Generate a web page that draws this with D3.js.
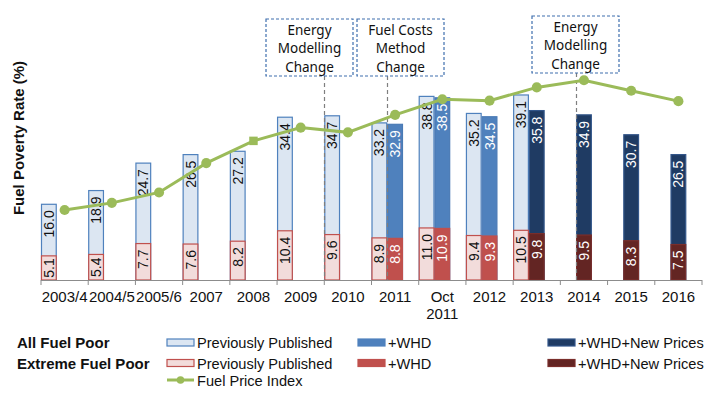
<!DOCTYPE html>
<html>
<head>
<meta charset="utf-8">
<script src="https://cdn.jsdelivr.net/npm/d3@7.9.0/dist/d3.min.js"></script>
<style>
  html, body { margin: 0; padding: 0; background: #fff; }
  svg { display: block; font-family: "Liberation Sans", Arial, sans-serif; }
</style>
</head>
<body>
<svg id="chart" width="722" height="406"></svg>
<script>
// chart values
const categories = ["2003/4", "2004/5", "2005/6", "2007", "2008", "2009", "2010", "2011", "Oct 2011", "2012", "2013", "2014", "2015", "2016"];
const allPrev  = [16.0, 18.9, 24.7, 26.5, 27.2, 34.4, 34.7, 33.2, 38.8, 35.2, 39.1, null, null, null];
const allWHD   = [null, null, null, null, null, null, null, 32.9, 38.5, 34.5, null, null, null, null];
const allNew   = [null, null, null, null, null, null, null, null, null, null, 35.8, 34.9, 30.7, 26.5];
const extPrev  = [5.1, 5.4, 7.7, 7.6, 8.2, 10.4, 9.6, 8.9, 11.0, 9.4, 10.5, null, null, null];
const extWHD   = [null, null, null, null, null, null, null, 8.8, 10.9, 9.3, null, null, null, null];
const extNew   = [null, null, null, null, null, null, null, null, null, null, 9.8, 9.5, 8.3, 7.5];
const fuelPriceIndex = [14.8, 16.3, 18.5, 24.7, 29.4, 32.2, 31.2, 34.9, 38.2, 37.9, 40.7, 42.2, 40.0, 37.8];
const squareMarkerAt = ["2008"];

const annotations = [
  { lines: ["Energy", "Modelling", "Change"], at: "2010", slot: 0, dx: -15, top: 19 },
  { lines: ["Fuel Costs", "Method", "Change"], at: "2011", slot: 1, dx: 13, top: 19 },
  { lines: ["Energy", "Modelling", "Change"], at: "2014", slot: 1, dx: -1, top: 16 }
];

const svg = d3.select("#chart");
const left = 41, right = 702, base = 280;

const x = d3.scaleBand().domain(categories).range([left, right]).padding(0);
const slot = d3.scaleBand().domain([0, 1, 2]).range([0, x.bandwidth()]);
const y = d3.scaleLinear().domain([0, 56]).range([base, 15]);

const col = {
  prevAll: "#dce6f2", prevAllLine: "#4f81bd",
  prevExt: "#f2dcdb", prevExtLine: "#c0504d",
  whdAll: "#4f81bd", whdExt: "#c0504d",
  newAll: "#1f3b63", newExt: "#632523",
  green: "#9bbb59"
};

const series = [
  { vals: allPrev, s: 0, fill: col.prevAll, stroke: col.prevAllLine, text: "#111" },
  { vals: allWHD,  s: 1, fill: col.whdAll,  stroke: "#4a7ab5", text: "#fff" },
  { vals: allNew,  s: 1, fill: col.newAll,  stroke: "#33568a", text: "#fff" },
  { vals: extPrev, s: 0, fill: col.prevExt, stroke: col.prevExtLine, text: "#111" },
  { vals: extWHD,  s: 1, fill: col.whdExt,  stroke: "#c0504d", text: "#fff" },
  { vals: extNew,  s: 1, fill: col.newExt,  stroke: "#7a2e2b", text: "#fff" }
];

const barG = svg.append("g");
const labelG = svg.append("g");

series.forEach(sr => {
  const data = categories.map((c, i) => ({ c, v: sr.vals[i] })).filter(d => d.v != null);
  barG.selectAll(null).data(data).enter().append("rect")
    .attr("x", d => x(d.c) + slot(sr.s) + 0.5)
    .attr("y", d => y(d.v))
    .attr("width", slot.bandwidth() - 1)
    .attr("height", d => y(0) - y(d.v))
    .attr("fill", sr.fill)
    .attr("stroke", sr.stroke)
    .attr("stroke-width", 1.2);

  labelG.selectAll(null).data(data).enter().append("text")
    .attr("font-size", "14px")
    .attr("fill", sr.text)
    .text(d => d.v.toFixed(1))
    .each(function (d) {
      const len = this.getComputedTextLength();
      const cx = x(d.c) + slot(sr.s) + slot.bandwidth() / 2;
      const top = y(d.v), h = y(0) - top;
      let yPos;
      if (h - 9 >= len) yPos = top + 6 + len;           // inside end
      else yPos = top + h / 2 + len / 2;                 // centred in short bars
      d3.select(this)
        .attr("transform", `translate(${cx + 5},${yPos}) rotate(-90)`);
    });
});

// axis
const axisG = svg.append("g");
axisG.append("line")
  .attr("x1", left).attr("x2", right).attr("y1", base + 0.5).attr("y2", base + 0.5)
  .attr("stroke", "#8c8c8c").attr("stroke-width", 1);
const ticks = categories.map(c => x(c)).concat([right]);
axisG.selectAll(null).data(ticks).enter().append("line")
  .attr("x1", d => d).attr("x2", d => d)
  .attr("y1", base).attr("y2", base + 5)
  .attr("stroke", "#8c8c8c");

axisG.selectAll(null).data(categories).enter().append("text")
  .attr("text-anchor", "middle")
  .attr("font-size", "15px")
  .attr("fill", "#111")
  .each(function (c) {
    const parts = c.split(" ");
    d3.select(this).selectAll("tspan").data(parts).enter().append("tspan")
      .attr("x", x(c) + x.bandwidth() / 2)
      .attr("y", (p, i) => base + 22 + i * 16.5)
      .text(p => p);
  });

// y title
svg.append("text")
  .attr("transform", "translate(24,138) rotate(-90)")
  .attr("text-anchor", "middle")
  .attr("font-size", "15px")
  .attr("font-weight", "bold")
  .attr("fill", "#111")
  .text("Fuel Poverty Rate (%)");

// annotation boxes and dashed markers
annotations.forEach(a => {
  const lx = Math.round(x(a.at) + slot(a.slot)) + 0.5;
  const g = svg.append("g");
  const bw = 87, bh = 57;
  const bx = lx + a.dx - bw / 2;
  g.append("line")
    .attr("x1", lx).attr("x2", lx).attr("y1", a.top + bh).attr("y2", base)
    .attr("stroke", "#7f7f7f").attr("stroke-width", 1.2)
    .attr("stroke-dasharray", "4,3");
  g.append("rect")
    .attr("x", bx).attr("y", a.top).attr("width", bw).attr("height", bh)
    .attr("fill", "#fff").attr("stroke", "#3f6fae").attr("stroke-width", 1.2)
    .attr("stroke-dasharray", "3,2");
  g.selectAll(null).data(a.lines).enter().append("text")
    .attr("x", bx + bw / 2)
    .attr("y", (t, i) => a.top + 16 + i * 18.3)
    .attr("text-anchor", "middle")
    .attr("font-family", "'Noto Sans', sans-serif")
    .attr("font-size", "13.5px")
    .attr("fill", "#111")
    .text(t => t);
});

// fuel price index line
const pts = categories.map((c, i) => ({ c, v: fuelPriceIndex[i] }));
svg.append("path")
  .datum(pts)
  .attr("fill", "none")
  .attr("stroke", col.green)
  .attr("stroke-width", 3)
  .attr("d", d3.line().x(d => x(d.c) + x.bandwidth() / 2).y(d => y(d.v)));
svg.selectAll(null).data(pts).enter().append("path")
  .attr("transform", d => `translate(${x(d.c) + x.bandwidth() / 2},${y(d.v)})`)
  .attr("d", d => d3.symbol()
    .type(squareMarkerAt.includes(d.c) ? d3.symbolSquare : d3.symbolCircle)
    .size(squareMarkerAt.includes(d.c) ? 72 : 80)())
  .attr("fill", col.green);

// legend
const lg = svg.append("g").attr("fill", "#111");
lg.append("text").attr("x", 17).attr("y", 348).attr("font-size", "15px")
  .attr("font-weight", "bold").text("All Fuel Poor");
lg.append("text").attr("x", 17).attr("y", 369).attr("font-size", "15px")
  .attr("font-weight", "bold").text("Extreme Fuel Poor");

const legendItems = [
  { x: 167, row: 0, fill: col.prevAll, stroke: col.prevAllLine, label: "Previously Published" },
  { x: 358, row: 0, fill: col.whdAll, stroke: col.whdAll, label: "+WHD" },
  { x: 548, row: 0, fill: col.newAll, stroke: "#33568a", label: "+WHD+New Prices" },
  { x: 167, row: 1, fill: col.prevExt, stroke: col.prevExtLine, label: "Previously Published" },
  { x: 358, row: 1, fill: col.whdExt, stroke: col.whdExt, label: "+WHD" },
  { x: 548, row: 1, fill: col.newExt, stroke: "#7a2e2b", label: "+WHD+New Prices" }
];
const rowY = [342.5, 363];
legendItems.forEach(it => {
  lg.append("rect")
    .attr("x", it.x).attr("y", rowY[it.row] - 3.5).attr("width", 27).attr("height", 7)
    .attr("fill", it.fill).attr("stroke", it.stroke).attr("stroke-width", 1.2);
  lg.append("text")
    .attr("x", it.x + 30).attr("y", rowY[it.row] + 5.5)
    .attr("font-size", "14.6px")
    .text(it.label);
});
lg.append("line").attr("x1", 167).attr("x2", 194).attr("y1", 380).attr("y2", 380)
  .attr("stroke", col.green).attr("stroke-width", 3);
lg.append("circle").attr("cx", 180.5).attr("cy", 380).attr("r", 3.8).attr("fill", col.green);
lg.append("text").attr("x", 197).attr("y", 385.5).attr("font-size", "14.6px").text("Fuel Price Index");
</script>
</body>
</html>
